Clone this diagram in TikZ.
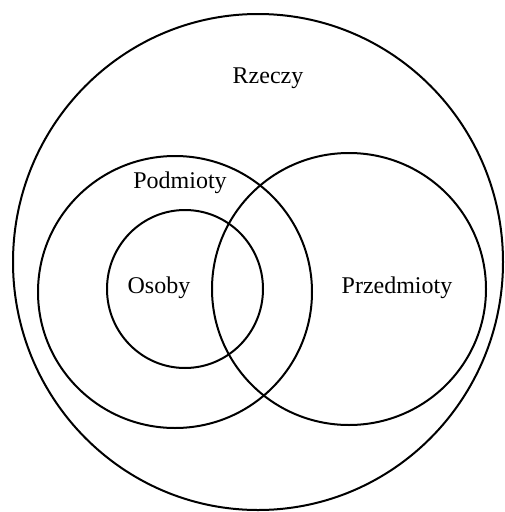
\documentclass[tikz,border=0pt]{standalone}
\usepackage{fontspec}
\setmainfont{Liberation Serif}

\begin{document}
\begin{tikzpicture}[x=1pt,y=-1pt,line width=2pt]
\def\lblsize{\fontsize{24}{28}\selectfont}
\useasboundingbox (0,0) rectangle (504,512);
\draw (258,262) ellipse (245 and 248);
\draw (175,292) ellipse (137 and 136);
\draw (349,289) ellipse (137 and 136);
\draw (185,289) ellipse (78 and 79);

\node[font=\lblsize] (rzeczy) at (268,78) {Rzeczy};
\node[font=\lblsize] (podmioty) at (180,183) {Podmioty};
\node[font=\lblsize] (osoby) at (159,288) {Osoby};
\node[font=\lblsize] (przedmioty) at (397,288) {Przedmioty};

\end{tikzpicture}
\end{document}
